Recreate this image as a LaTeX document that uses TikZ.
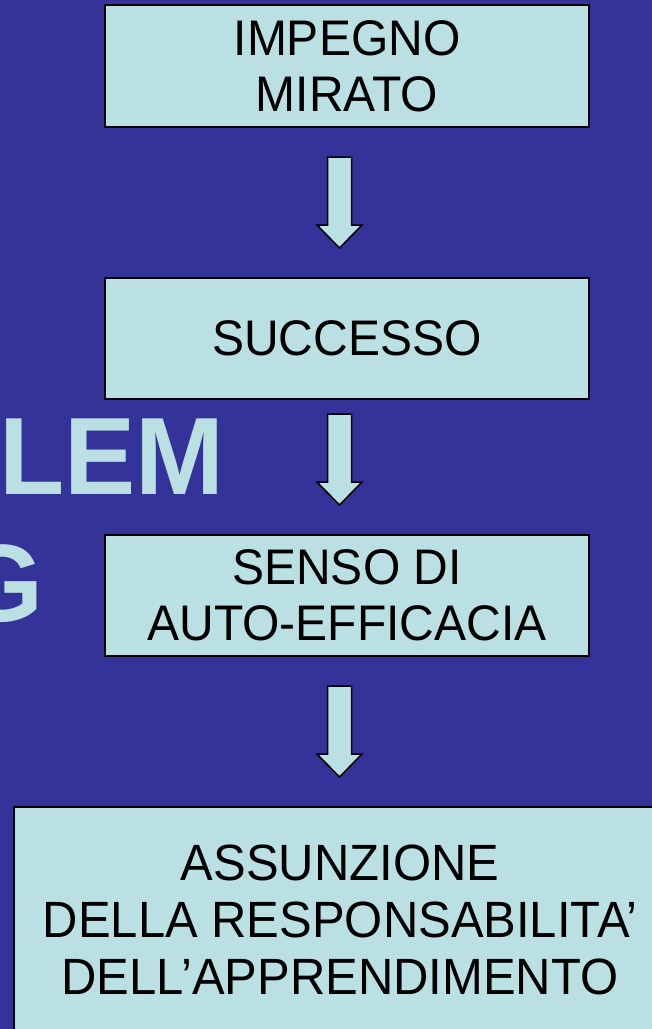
\documentclass[tikz,border=0pt]{standalone}
\usepackage{fontspec}
\setmainfont{Liberation Sans}
\newfontfamily\boxfont{Liberation Sans}[FakeStretch=0.96]
\newfontfamily\bigfont{Liberation Sans}[FakeStretch=0.97]
\definecolor{slidebg}{HTML}{333399}
\definecolor{boxfill}{HTML}{BBE0E3}
\tikzset{
  stepbox/.style={draw=black, line width=1.5pt, fill=boxfill, inner sep=0pt,
    align=center, text=black, font=\boxfont\fontsize{50}{56}\selectfont},
  bigtext/.style={inner sep=0pt, text=boxfill, font=\bigfont\bfseries\fontsize{110}{120}\selectfont},
  arrowstyle/.style={draw=black, line width=1.5pt, fill=boxfill, line join=miter},
  blockarrow/.pic={\path[arrowstyle] (-12,0) -- (12,0) -- (12,68) -- (22.5,68) -- (0,91) -- (-22.5,68) -- (-12,68) -- cycle;}
}
\begin{document}
\begin{tikzpicture}[x=1pt,y=-1pt]
\useasboundingbox (0,0) rectangle (652,1029);
\fill[slidebg] (0,0) rectangle (652,1029);
\begin{scope}
\clip (0,0) rectangle (652,1029);
\node[bigtext, anchor=base west] (lem) at (-1,494) {LEM};
\node[bigtext, anchor=base east] (g) at (44,621) {G};
\node[stepbox, minimum width=484, minimum height=122] (b1) at (347,66) {IMPEGNO\\MIRATO};
\node[stepbox, minimum width=484, minimum height=121] (b2) at (347,338.5) {SUCCESSO};
\node[stepbox, minimum width=484, minimum height=121] (b3) at (347,595.5) {SENSO DI\\AUTO-EFFICACIA};
\node[stepbox, minimum width=652, minimum height=226, font=\boxfont\fontsize{51}{57}\selectfont] (b4) at (340,920) {ASSUNZIONE\\DELLA RESPONSABILITA’\\DELL’APPRENDIMENTO};
\pic (a1) at (339.5,157) {blockarrow};
\pic (a2) at (339.5,414) {blockarrow};
\pic (a3) at (339.5,686) {blockarrow};
\end{scope}
\end{tikzpicture}
\end{document}
